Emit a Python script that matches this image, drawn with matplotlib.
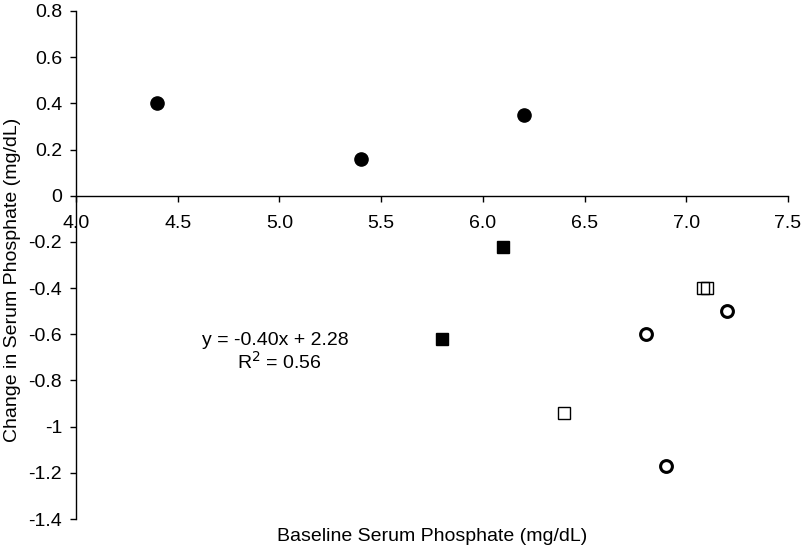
import numpy as np
import matplotlib
matplotlib.use('Agg')
import matplotlib.pyplot as plt

plt.rcParams['font.family'] = ['Liberation Sans', 'DejaVu Sans']

# filled circles
dot_x = [4.4, 5.4, 6.2]
dot_y = [0.40, 0.16, 0.35]
# filled squares
fsq_x = [6.1, 5.8]
fsq_y = [-0.22, -0.62]
# open squares
osq_x = [6.4, 7.08, 7.1]
osq_y = [-0.94, -0.40, -0.40]
# open circles
ocirc_x = [6.8, 7.2, 6.9]
ocirc_y = [-0.60, -0.50, -1.17]

xticks = [4.0, 4.5, 5.0, 5.5, 6.0, 6.5, 7.0, 7.5]
yticks = [0.8, 0.6, 0.4, 0.2, 0, -0.2, -0.4, -0.6, -0.8, -1, -1.2, -1.4]
ytick_labels = ['0.8', '0.6', '0.4', '0.2', '0', '-0.2', '-0.4', '-0.6', '-0.8', '-1', '-1.2', '-1.4']

fs = 14

fig = plt.figure(figsize=(8.02, 5.49), dpi=100)
ax = fig.add_axes([0.0948, 0.0546, 0.8877, 0.9254])

ax.plot(dot_x, dot_y, 'o', color='black', markersize=9.5, linestyle='none')
ax.plot(fsq_x, fsq_y, 's', color='black', markersize=8.5, linestyle='none')
ax.plot(osq_x, osq_y, 's', markerfacecolor='none', markeredgecolor='black',
        markeredgewidth=1.0, markersize=9, linestyle='none')
ax.plot(ocirc_x, ocirc_y, 'o', markerfacecolor='none', markeredgecolor='black',
        markeredgewidth=2.2, markersize=8.5, linestyle='none')

ax.set_xlim(4.0, 7.5)
ax.set_ylim(-1.4, 0.8)

ax.spines['top'].set_visible(False)
ax.spines['right'].set_visible(False)
ax.spines['bottom'].set_position(('data', 0))
ax.spines['bottom'].set_linewidth(1.0)
ax.spines['left'].set_linewidth(1.0)

ax.set_xticks(xticks)
ax.set_xticklabels([f'{v:.1f}' for v in xticks])
ax.set_yticks(yticks)
ax.set_yticklabels(ytick_labels)
ax.tick_params(axis='both', direction='out', length=4, width=1, labelsize=fs)
ax.tick_params(axis='x', pad=10)
ax.tick_params(axis='y', pad=6)

ax.text(4.98, -0.628, 'y = -0.40x + 2.28', ha='center', va='center', fontsize=fs)
ax.text(5.0, -0.72, 'R$^2$ = 0.56', ha='center', va='center', fontsize=fs)

fig.text(0.539, 0.022, 'Baseline Serum Phosphate (mg/dL)', ha='center', va='center', fontsize=fs)
fig.text(0.016, 0.49, 'Change in Serum Phosphate (mg/dL)', ha='center', va='center',
         rotation=90, fontsize=fs)

fig.savefig('out.png', dpi=100)
